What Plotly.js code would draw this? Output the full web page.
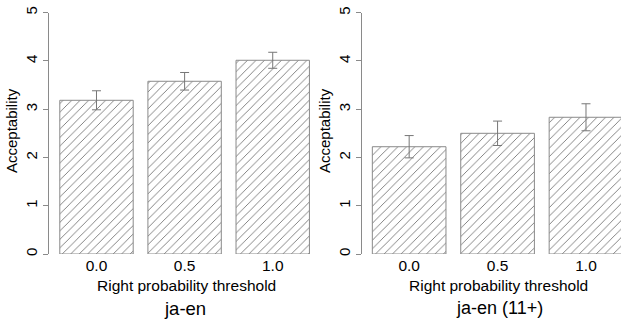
<!DOCTYPE html>
<html>
<head>
<meta charset="utf-8">
<script src="https://cdn.plot.ly/plotly-3.0.1.min.js"></script>
<style>html,body{margin:0;padding:0;background:#fff;}#chart{width:621px;height:322px;}</style>
</head>
<body>
<div id="chart"></div>
<script>
// Data
const categories = ["0.0", "0.5", "1.0"];
const jaEnMeans = [3.185, 3.579, 4.014];
const jaEnErrors = [0.197, 0.182, 0.166];
const jaEn11Means = [2.223, 2.501, 2.833];
const jaEn11Errors = [0.231, 0.253, 0.280];
const panelTitles = ["ja-en", "ja-en (11+)"];
const xTitle = "Right probability threshold";
const yTitle = "Acceptability";
const yTicks = [0, 1, 2, 3, 4, 5];

const W = 621, H = 322;
const FONT = "Liberation Sans, Arial, sans-serif";
const GRAY = "#8a8a8a";
const TEXT = "#000000";

function px(x) { return x / W; }
function py(y) { return 1 - y / H; }

function barTrace(means, errs, xa, ya) {
  return {
    type: "bar",
    x: categories,
    y: means,
    xaxis: xa,
    yaxis: ya,
    marker: {
      color: "#ffffff",
      line: { color: GRAY, width: 1 },
      pattern: { shape: "/", fgcolor: "#6e6e6e", bgcolor: "#ffffff", size: 6, solidity: 0.14, fillmode: "replace" }
    },
    error_y: { type: "data", array: errs, visible: true, color: "#777777", thickness: 1, width: 4.5 },
    hoverinfo: "skip",
    showlegend: false
  };
}

const yDomain = [py(254), py(12.7)];

function yAxis(anchor) {
  return {
    domain: yDomain,
    anchor: anchor,
    range: [0, 5],
    tickvals: yTicks,
    ticktext: yTicks.map(String),
    ticks: "outside",
    ticklen: 5,
    tickcolor: GRAY,
    tickwidth: 1,
    tickangle: -90,
    showline: true,
    linecolor: GRAY,
    linewidth: 1,
    showgrid: false,
    zeroline: false,
    tickfont: { family: FONT, size: 15, color: TEXT },
    fixedrange: true
  };
}

function xAxis(domain, range, anchor) {
  return {
    domain: domain,
    anchor: anchor,
    type: "category",
    range: range,
    showline: false,
    ticks: "",
    showgrid: false,
    zeroline: false,
    tickfont: { family: FONT, size: 15.5, color: TEXT },
    fixedrange: true
  };
}

const data = [
  barTrace(jaEnMeans, jaEnErrors, "x", "y"),
  barTrace(jaEn11Means, jaEn11Errors, "x2", "y2")
];

const annotations = [
  { text: yTitle, x: px(12), y: py(131), textangle: -90, size: 15 },
  { text: yTitle, x: px(325), y: py(131), textangle: -90, size: 15 },
  { text: xTitle, x: px(186), y: py(285) },
  { text: xTitle, x: px(498.5), y: py(285) },
  { text: panelTitles[0], x: px(184.8), y: py(308), size: 18.5 },
  { text: panelTitles[1], x: px(499), y: py(308), size: 18 }
].map(a => ({
  text: a.text, x: a.x, y: a.y, xref: "paper", yref: "paper",
  xanchor: "center", yanchor: "middle", showarrow: false,
  textangle: a.textangle || 0,
  font: { family: FONT, size: a.size || 15.5, color: TEXT }
}));

const layout = {
  width: W, height: H,
  margin: { l: 0, r: 0, t: 0, b: 0, pad: 0 },
  paper_bgcolor: "#ffffff",
  plot_bgcolor: "#ffffff",
  bargap: 0.167,
  xaxis: xAxis([px(49), px(310)], [-0.539, 2.423], "y"),
  yaxis: yAxis("x"),
  xaxis2: xAxis([px(362.3), 1], [-0.530, 2.396], "y2"),
  yaxis2: yAxis("x2"),
  annotations: annotations
};

Plotly.newPlot("chart", data, layout, { staticPlot: true, displayModeBar: false });
</script>
</body>
</html>
